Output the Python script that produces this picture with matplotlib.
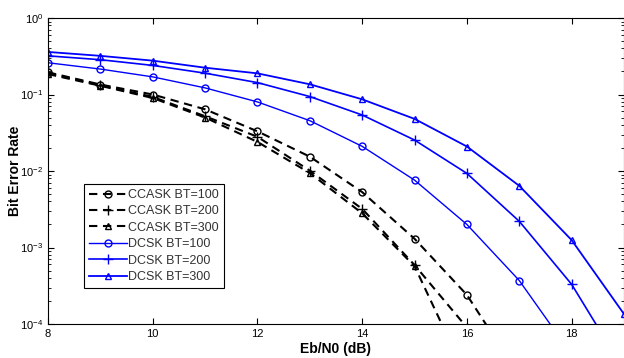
import numpy as np
import matplotlib
matplotlib.use("Agg")
import matplotlib.pyplot as plt

plt.rcParams['font.family'] = ['Liberation Sans', 'DejaVu Sans']

ebn0 = [8, 9, 10, 11, 12, 13, 14, 15, 16, 17, 18, 19]

# CCASK (dashed black)
ccask_100 = [0.195, 0.135, 0.100, 0.064, 0.033, 0.0154, 0.0053, 0.0013, 2.4e-4, 2.1e-5]
ccask_200 = [0.19, 0.132, 0.093, 0.052, 0.028, 0.0101, 0.0032, 5.9e-4, 9.0e-5]
ccask_300 = [0.185, 0.13, 0.090, 0.050, 0.024, 0.0094, 0.0028, 5.7e-4, 2.0e-5]

# DCSK (solid blue)
dcsk_100 = [0.26, 0.215, 0.17, 0.122, 0.080, 0.0455, 0.021, 0.0076, 0.0020, 3.7e-4, 4.0e-5]
dcsk_200 = [0.32, 0.285, 0.24, 0.19, 0.143, 0.094, 0.054, 0.0254, 0.0093, 0.0022, 3.3e-4, 2.5e-5]
dcsk_300 = [0.36, 0.32, 0.277, 0.224, 0.189, 0.136, 0.0865, 0.048, 0.0209, 0.0064, 0.00125, 1.35e-4]

fig = plt.figure(figsize=(6.24, 3.58), dpi=100)
ax = fig.add_axes([48 / 624, 34 / 358, 576 / 624, 306 / 358])

ms = 5
dash = (4, 2.7)
ax.semilogy(ebn0[:len(ccask_100)], ccask_100, 'k--o', dashes=dash, mfc='none', ms=ms, lw=1.5, label='CCASK BT=100')
ax.semilogy(ebn0[:len(ccask_200)], ccask_200, 'k--+', dashes=dash, ms=7, lw=1.5, label='CCASK BT=200')
ax.semilogy(ebn0[:len(ccask_300)], ccask_300, 'k--^', dashes=dash, mfc='none', ms=ms, lw=1.5, label='CCASK BT=300')
ax.semilogy(ebn0[:len(dcsk_100)], dcsk_100, '-o', color='#0000ff', mfc='none', ms=ms, lw=1.0, label='DCSK BT=100')
ax.semilogy(ebn0[:len(dcsk_200)], dcsk_200, '-+', color='#0000ff', ms=7, lw=1.2, label='DCSK BT=200')
ax.semilogy(ebn0[:len(dcsk_300)], dcsk_300, '-^', color='#0000ff', mfc='none', ms=ms, lw=1.3, label='DCSK BT=300')

ax.set_xlim(8, 19)
ax.set_ylim(1e-4, 1)
ax.set_xticks([8, 10, 12, 14, 16, 18])
ax.tick_params(which='both', direction='in', top=True, right=True, labelsize=8)
ax.tick_params(which='major', length=4)
ax.tick_params(which='minor', length=2)
for s in ax.spines.values():
    s.set_linewidth(0.8)

ax.set_xlabel('Eb/N0 (dB)', fontsize=10, fontweight='bold', labelpad=2)
ax.set_ylabel('Bit Error Rate', fontsize=10, fontweight='bold')
ax.yaxis.set_label_coords(-0.045, 0.5)

leg = ax.legend(loc='lower left', bbox_to_anchor=(0.063, 0.118), fontsize=9,
                handlelength=3.0, handletextpad=0.1, borderpad=0.4, labelspacing=0.35,
                fancybox=False, framealpha=1, edgecolor='black', borderaxespad=0)
leg.get_frame().set_linewidth(0.8)
for t in leg.get_texts():
    t.set_color('#333333')

fig.savefig('out.png', dpi=100)
